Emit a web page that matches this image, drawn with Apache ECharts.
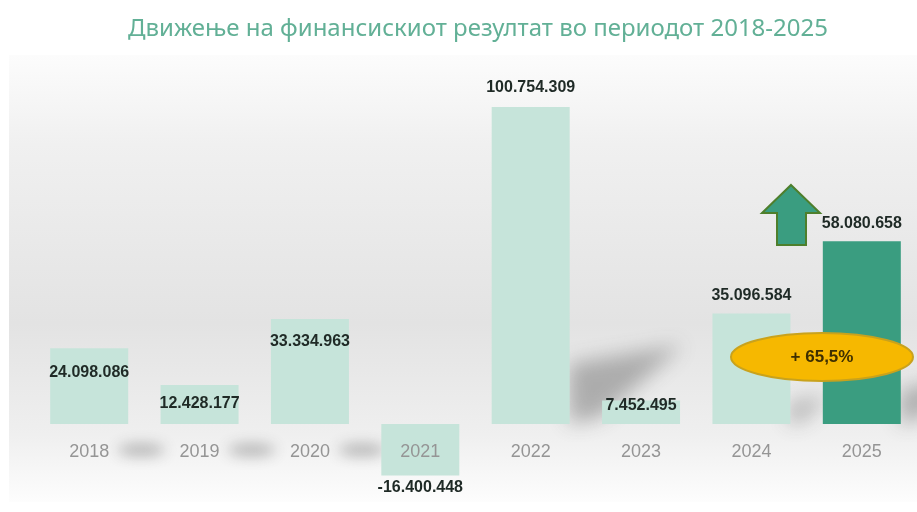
<!DOCTYPE html>
<html><head><meta charset="utf-8">
<script src="https://cdn.jsdelivr.net/npm/echarts@6/dist/echarts.min.js"></script>
<style>html,body{margin:0;padding:0;background:#fff}#c{width:917px;height:512px}</style>
</head><body><div id="c"></div>
<script>
const titleText = 'Движење на финансискиот резултат во периодот 2018-2025';
const years = ['2018','2019','2020','2021','2022','2023','2024','2025'];
const values = [24098086, 12428177, 33334963, -16400448, 100754309, 7452495, 35096584, 58080658];
const valueLabels = ['24.098.086','12.428.177','33.334.963','-16.400.448','100.754.309','7.452.495','35.096.584','58.080.658'];
const changeText = '+ 65,5%';

// label placement and shadow style (style only)
const labelPos = ['insideTop','insideTop','insideTop','bottom','top','insideTop','top','top'];
const labelDist = [16, 11, 14, 4, 11, -3, 10, 10];
const shadowKind = ['floor','floor','floor','none','cast','none','cast','cast'];

const light = '#c6e4da', dark = '#3a9d80';
const chart = echarts.init(document.getElementById('c'));
const data = values.map((v, i) => ({
  value: v,
  itemStyle: { color: i === values.length - 1 ? dark : light },
  label: { show: true, formatter: valueLabels[i], position: labelPos[i], distance: labelDist[i] }
}));
const shadowData = values.map((v, i) => [i, v]);
const SHIFT = 2000;

chart.setOption({
  animation: false,
  backgroundColor: '#ffffff',
  title: {
    text: titleText, left: 123, top: 12,
    textStyle: { color: '#62b096', fontSize: 24, fontWeight: 'normal', fontFamily: 'Noto Sans, sans-serif' }
  },
  graphic: [
    { type: 'rect', z: -10, shape: { x: 9, y: 55, width: 910, height: 447 },
      style: { fill: new echarts.graphic.LinearGradient(0, 0, 0, 1, [
        { offset: 0, color: '#fcfcfc' }, { offset: 0.2, color: '#f0f0f0' }, { offset: 0.6, color: '#e3e3e3' },
        { offset: 0.85, color: '#efefef' }, { offset: 1, color: '#fdfdfd' }]) } },
    { type: 'polygon', z: 100,
      shape: { points: [[791, 185], [820, 213], [806, 213], [806, 245], [777, 245], [777, 213], [762, 213]] },
      style: { fill: '#3a9d80', stroke: '#4e7f2c', lineWidth: 2 } },
    { type: 'ellipse', z: 100, shape: { cx: 822, cy: 357, rx: 91, ry: 24 },
      style: { fill: '#f6b800', stroke: '#c9a21c', lineWidth: 2 } },
    { type: 'text', z: 101, x: 822, y: 357,
      style: { text: changeText, fill: '#3e2f00', font: 'bold 17px Liberation Sans, sans-serif', textAlign: 'center', textVerticalAlign: 'middle' } }
  ],
  grid: { left: 34, width: 887, top: 107, bottom: 88, containLabel: false },
  xAxis: {
    type: 'category', data: years, z: 10,
    axisLine: { show: false }, axisTick: { show: false },
    axisLabel: { color: '#959595', fontSize: 18, margin: 19, fontFamily: 'Liberation Sans, sans-serif' }
  },
  yAxis: {
    type: 'value', min: 0, max: 100754309, show: false,
    splitLine: { show: false }
  },
  series: [{
    type: 'custom', z: 1, silent: true, data: shadowData, clip: false,
    renderItem: function (params, api) {
      const i = api.value(0), v = api.value(1);
      const kind = shadowKind[i];
      if (kind === 'none') return null;
      const top = api.coord([i, v]);
      const base = api.coord([i, 0]);
      const h = base[1] - top[1];
      const xr = base[0] + 38 - SHIFT, y0 = base[1];
      if (kind === 'cast') {
        return {
          type: 'polygon',
          shape: { points: [[xr, y0], [xr, y0 - 0.19 * h], [xr + 0.36 * h, y0 - 0.25 * h], [xr + 0.1 * h, y0 - 0.02 * h]] },
          style: { fill: '#888', shadowBlur: 20, shadowOffsetX: SHIFT, shadowColor: 'rgba(80,80,80,0.4)' }
        };
      }
      return {
        type: 'ellipse',
        shape: { cx: xr + 14, cy: y0 + 26, rx: 24, ry: 6 },
        style: { fill: '#888', shadowBlur: 14, shadowOffsetX: SHIFT, shadowColor: 'rgba(80,80,80,0.4)' }
      };
    }
  }, {
    type: 'bar', z: 2, data: data, barWidth: 78, clip: false,
    label: { color: '#1f2a26', fontSize: 16, fontWeight: 'bold', fontFamily: 'Liberation Sans, sans-serif' }
  }]
});
</script></body></html>
